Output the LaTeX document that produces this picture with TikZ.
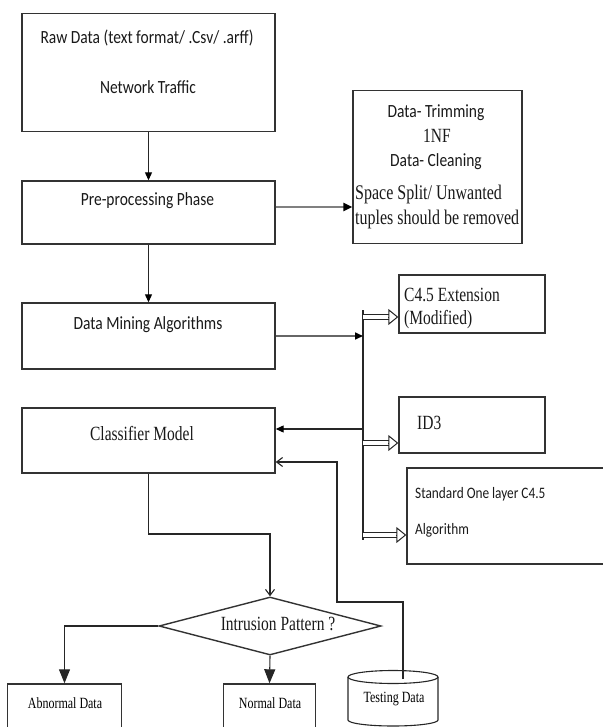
\documentclass[tikz,border=0pt]{standalone}
\usepackage{fontspec}
\setmainfont{Liberation Serif}
\newfontfamily\calfont{Carlito}
\usetikzlibrary{arrows.meta,shapes.geometric}
\begin{document}
\begin{tikzpicture}[x=1pt,y=1pt,
  box/.style={draw=black!80, line width=1.4pt, inner sep=0pt},
  cal/.style={font=\calfont\fontsize{15.5}{17}\selectfont, yscale=1.2, inner sep=0pt, text=black!90},
  tms/.style={font=\fontsize{15.5}{17}\selectfont, yscale=1.3, inner sep=0pt, text=black!90},
  smalltxt/.style={font=\fontsize{12}{13}\selectfont, yscale=1.3, inner sep=0pt},
  conn/.style={draw=black!85, line width=1.1pt},
  arr/.style={conn, -{Triangle[length=8pt,width=7pt,color=black]}},
  bigarr/.style={conn, -{Triangle[length=14pt,width=11pt]}},
  openarr/.style={conn, -{Straight Barb[length=6pt,width=9pt]}},
  dbl/.style={draw=black!85, double, double distance=4.5pt, line width=1pt, shorten >=9pt},
  hollowtip/.style={draw=black!85, line width=1pt, -{Triangle[open,length=10pt,width=16pt]}},
]
\useasboundingbox (0,0) rectangle (602,-727);
% helper coordinates
\coordinate (y207) at (0,-207);
\coordinate (y317) at (0,-317);
\coordinate (y429) at (0,-429);
\coordinate (y443) at (0,-443);
\coordinate (y535) at (0,-535);
\coordinate (y534) at (0,-534);
\coordinate (bt) at (363,-310);
\coordinate (bb) at (363,-540);
\coordinate (tdtop) at (403,-679);
\coordinate (k1) at (337,-602);
\coordinate (k2) at (337,-462);

% boxes
\node[box, minimum width=253, minimum height=118] (raw) at (148.5,-72.5) {};
\node[cal] (rawt1) at (147,-38) {Raw Data (text format/ .Csv/ .arff)};
\node[cal] (rawt2) at (148,-87) {Network Traffic};

\node[box, minimum width=253, minimum height=63] (pre) at (148.5,-212.5) {};
\node[cal] (pret) at (147.5,-201) {Pre-processing Phase};

\node[box, minimum width=169, minimum height=153] (clean) at (437.5,-167) {};
\node[cal] (c1) at (436,-113) {Data- Trimming};
\node[tms] (c2) at (437,-136) {1NF};
\node[cal] (c3) at (436,-162) {Data- Cleaning};
\node[tms, anchor=west, font=\fontsize{16}{17}\selectfont] (c4) at (355,-194) {Space Split/ Unwanted};
\node[tms, anchor=west, font=\fontsize{16}{17}\selectfont] (c5) at (355,-219) {tuples should be removed};

\node[box, minimum width=253, minimum height=66] (dm) at (148.5,-336) {};
\node[cal] (dmt) at (148,-325) {Data Mining Algorithms};

\node[box, minimum width=253, minimum height=65] (cls) at (148.5,-440.5) {};
\node[tms] (clst) at (142,-434) {Classifier Model};

\node[box, minimum width=146, minimum height=58] (c45) at (472,-304) {};
\node[tms, anchor=west] (c45a) at (404,-295) {C4.5 Extension};
\node[tms, anchor=west] (c45b) at (404,-320) {(Modified)};

\node[box, minimum width=146, minimum height=56] (id3) at (472,-425) {};
\node[tms, anchor=west] (id3t) at (417,-423) {ID3};

\node[box, minimum width=198, minimum height=96] (std) at (506,-516) {};
\node[cal, anchor=west, font=\calfont\fontsize{13.3}{15}\selectfont] (stda) at (415,-494) {Standard One layer C4.5};
\node[cal, anchor=west, font=\calfont\fontsize{13.3}{15}\selectfont] (stdb) at (415,-530) {Algorithm};

\node[box, diamond, aspect=3.85, minimum width=222, minimum height=58] (dia) at (270,-626) {};
\node[tms] (diat) at (278,-624) {Intrusion Pattern ?};

\node[box, minimum width=114, minimum height=48] (abn) at (64.5,-708) {};
\node[smalltxt] (abnt) at (65,-703) {Abnormal Data};
\node[box, minimum width=92, minimum height=48] (nor) at (269.5,-708) {};
\node[smalltxt] (nort) at (270,-703) {Normal Data};

% cylinder
\draw[conn] (348,-677) -- (348,-720) arc[start angle=180,end angle=360,x radius=45pt,y radius=6pt] -- (438,-677);
\draw[conn] (393,-677) ellipse[x radius=45pt, y radius=6.5pt];
\node[smalltxt] (test) at (394,-699) {Testing Data};

% connectors
\draw[arr] (raw.south) -- (pre.north);
\draw[draw=black!50, line width=2.8pt, -{Triangle[length=9pt,width=8pt,color=black]}] (pre.east |- y207) -- (clean.west |- y207);
\draw[arr] (pre.south) -- (dm.north);
\draw[conn] (bt) -- (bb);
\draw[draw=black!60, line width=1.6pt, -{Triangle[length=8pt,width=7pt,color=black]}] (dm.east) -- (bt |- dm.east);
\draw[dbl] (bt |- y317) -- (c45.west |- y317);
\draw[hollowtip] ([xshift=-10pt]c45.west |- y317) -- (c45.west |- y317);
\draw[dbl] (bt |- y443) -- (id3.west |- y443);
\draw[hollowtip] ([xshift=-10pt]id3.west |- y443) -- (id3.west |- y443);
\draw[dbl] (bt |- y535) -- (std.west |- y535);
\draw[hollowtip] ([xshift=-10pt]std.west |- y535) -- (std.west |- y535);
\draw[arr] (bt |- y429) -- (cls.east |- y429);
\draw[openarr] (cls.south) -- (cls.south |- y534) -- (dia.north |- y534) -- (dia.north);
\draw[bigarr] (dia.west) -| (abn.north);
\draw[bigarr] (dia.south) -- (nor.north);
\draw[openarr] (tdtop) |- (k1) -- (k2) -- (cls.east |- k2);
\end{tikzpicture}
\end{document}
